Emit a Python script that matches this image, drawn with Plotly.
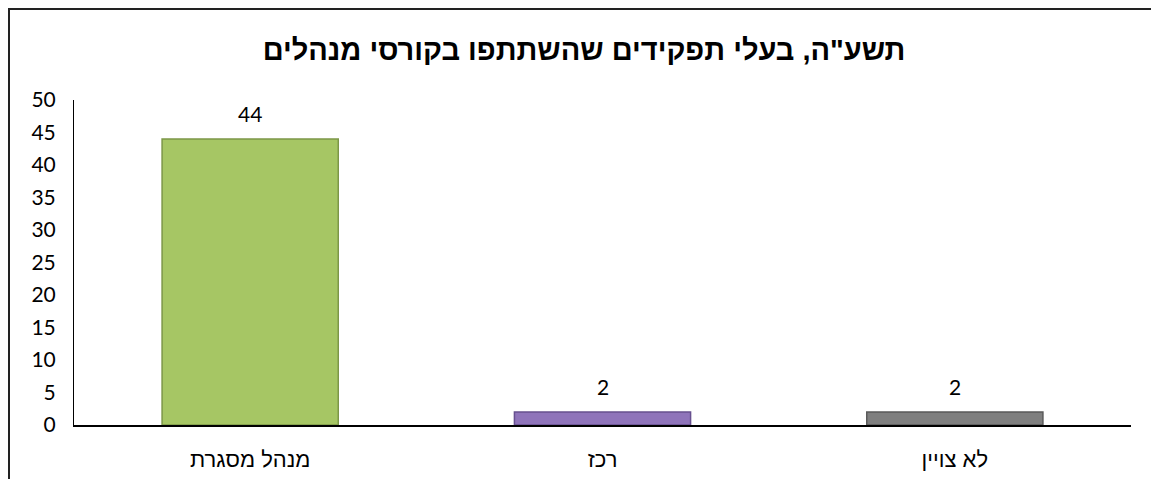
import plotly.graph_objects as go

categories = ["מנהל מסגרת", "רכז", "לא צויין"]
values = [44, 2, 2]
colors = ["#A6C664", "#8F74BA", "#7F7F7F"]
edge_colors = ["#7C9747", "#67508F", "#5A5A5A"]
y_ticks = [0, 5, 10, 15, 20, 25, 30, 35, 40, 45, 50]
title_text = 'תשע"ה, בעלי תפקידים שהשתתפו בקורסי מנהלים'

# page body has an 8px margin, so the figure starts at (8, 8) in the window
W, H = 1151, 471
ml, mr, mt, mb = 66, 28, 92, 54
pw, ph = W - ml - mr, H - mt - mb

fig = go.Figure()
fig.add_trace(go.Bar(
    x=categories, y=values, width=0.5,
    marker=dict(color=colors, line=dict(color=edge_colors, width=1.5)),
    hoverinfo="skip",
))

for c, v in zip(categories, values):
    fig.add_annotation(x=c, y=v, text=str(v), showarrow=False, yshift=26,
                       font=dict(size=21, color="#000000", family="Lato, DejaVu Sans"))

def px_x(p):
    return (p - ml) / pw

def px_y(p):
    return (H - mb - p) / ph

fig.add_shape(type="path", xref="paper", yref="paper",
              path=f"M {px_x(1)} {px_y(H + 5)} L {px_x(1)} {px_y(1)} L {px_x(W + 5)} {px_y(1)}",
              line=dict(color="#222222", width=2))

fig.update_layout(
    width=W, height=H,
    margin=dict(l=ml, r=mr, t=mt, b=mb, autoexpand=False),
    paper_bgcolor="white", plot_bgcolor="white",
    showlegend=False,
    title=dict(text=f"<b>{title_text}</b>", x=(584 - 8) / W, xanchor="center",
               y=1 - (50 - 8) / H, yanchor="middle", yref="container",
               font=dict(size=29, color="#000000", family="Liberation Sans, Arial")),
    font=dict(family="Lato, DejaVu Sans", size=21, color="#000000"),
    xaxis=dict(showline=True, linecolor="#000000", linewidth=2, ticks="",
               showgrid=False, ticklabelstandoff=14, automargin=False,
               tickfont=dict(size=22, family="Liberation Sans, Arial")),
    yaxis=dict(range=[0, 50], tickvals=y_ticks, showline=True, linecolor="#000000",
               linewidth=1, ticks="", showgrid=False, zeroline=False, automargin=False,
               ticklabelstandoff=13, tickfont=dict(size=21)),
)

fig.write_html("out.html")
